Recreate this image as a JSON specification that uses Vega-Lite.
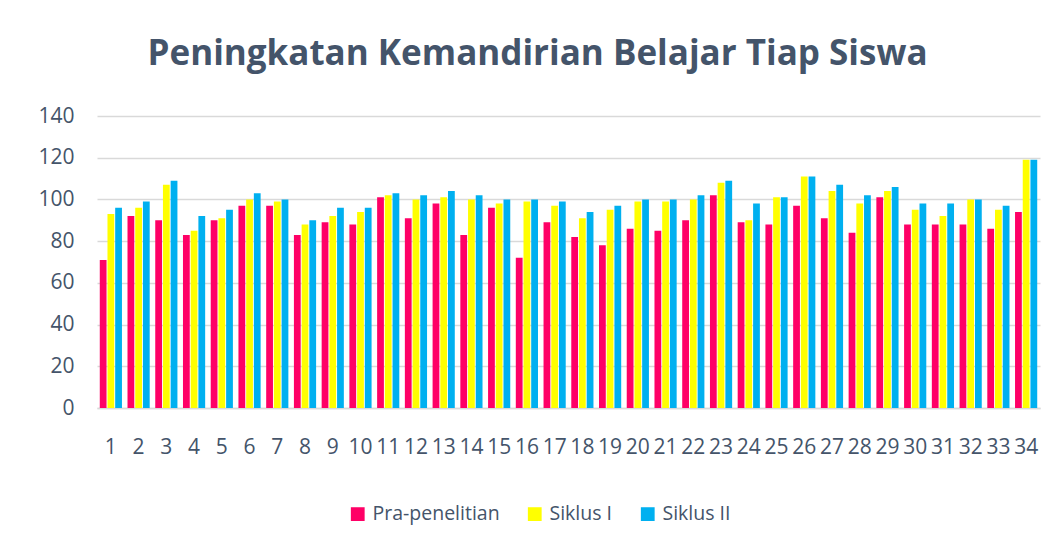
{
  "$schema": "https://vega.github.io/schema/vega-lite/v6.json",
  "width": 943,
  "height": 292,
  "autosize": {"type": "none"},
  "padding": {"left": 97, "top": 116, "right": 13, "bottom": 135},
  "background": "white",
  "title": {
    "text": "Peningkatan Kemandirian Belajar Tiap Siswa",
    "font": "Open Sans",
    "fontSize": 35,
    "fontWeight": "bold",
    "color": "#44546A",
    "frame": "group",
    "anchor": "middle",
    "baseline": "alphabetic",
    "offset": 5,
    "dx": -31
  },
  "data": {
    "values": [
      {"siswa": 1, "seri": "Pra-penelitian", "nilai": 71}, {"siswa": 1, "seri": "Siklus I", "nilai": 93}, {"siswa": 1, "seri": "Siklus II", "nilai": 96},
      {"siswa": 2, "seri": "Pra-penelitian", "nilai": 92}, {"siswa": 2, "seri": "Siklus I", "nilai": 96}, {"siswa": 2, "seri": "Siklus II", "nilai": 99},
      {"siswa": 3, "seri": "Pra-penelitian", "nilai": 90}, {"siswa": 3, "seri": "Siklus I", "nilai": 107}, {"siswa": 3, "seri": "Siklus II", "nilai": 109},
      {"siswa": 4, "seri": "Pra-penelitian", "nilai": 83}, {"siswa": 4, "seri": "Siklus I", "nilai": 85}, {"siswa": 4, "seri": "Siklus II", "nilai": 92},
      {"siswa": 5, "seri": "Pra-penelitian", "nilai": 90}, {"siswa": 5, "seri": "Siklus I", "nilai": 91}, {"siswa": 5, "seri": "Siklus II", "nilai": 95},
      {"siswa": 6, "seri": "Pra-penelitian", "nilai": 97}, {"siswa": 6, "seri": "Siklus I", "nilai": 100}, {"siswa": 6, "seri": "Siklus II", "nilai": 103},
      {"siswa": 7, "seri": "Pra-penelitian", "nilai": 97}, {"siswa": 7, "seri": "Siklus I", "nilai": 99}, {"siswa": 7, "seri": "Siklus II", "nilai": 100},
      {"siswa": 8, "seri": "Pra-penelitian", "nilai": 83}, {"siswa": 8, "seri": "Siklus I", "nilai": 88}, {"siswa": 8, "seri": "Siklus II", "nilai": 90},
      {"siswa": 9, "seri": "Pra-penelitian", "nilai": 89}, {"siswa": 9, "seri": "Siklus I", "nilai": 92}, {"siswa": 9, "seri": "Siklus II", "nilai": 96},
      {"siswa": 10, "seri": "Pra-penelitian", "nilai": 88}, {"siswa": 10, "seri": "Siklus I", "nilai": 94}, {"siswa": 10, "seri": "Siklus II", "nilai": 96},
      {"siswa": 11, "seri": "Pra-penelitian", "nilai": 101}, {"siswa": 11, "seri": "Siklus I", "nilai": 102}, {"siswa": 11, "seri": "Siklus II", "nilai": 103},
      {"siswa": 12, "seri": "Pra-penelitian", "nilai": 91}, {"siswa": 12, "seri": "Siklus I", "nilai": 100}, {"siswa": 12, "seri": "Siklus II", "nilai": 102},
      {"siswa": 13, "seri": "Pra-penelitian", "nilai": 98}, {"siswa": 13, "seri": "Siklus I", "nilai": 101}, {"siswa": 13, "seri": "Siklus II", "nilai": 104},
      {"siswa": 14, "seri": "Pra-penelitian", "nilai": 83}, {"siswa": 14, "seri": "Siklus I", "nilai": 100}, {"siswa": 14, "seri": "Siklus II", "nilai": 102},
      {"siswa": 15, "seri": "Pra-penelitian", "nilai": 96}, {"siswa": 15, "seri": "Siklus I", "nilai": 98}, {"siswa": 15, "seri": "Siklus II", "nilai": 100},
      {"siswa": 16, "seri": "Pra-penelitian", "nilai": 72}, {"siswa": 16, "seri": "Siklus I", "nilai": 99}, {"siswa": 16, "seri": "Siklus II", "nilai": 100},
      {"siswa": 17, "seri": "Pra-penelitian", "nilai": 89}, {"siswa": 17, "seri": "Siklus I", "nilai": 97}, {"siswa": 17, "seri": "Siklus II", "nilai": 99},
      {"siswa": 18, "seri": "Pra-penelitian", "nilai": 82}, {"siswa": 18, "seri": "Siklus I", "nilai": 91}, {"siswa": 18, "seri": "Siklus II", "nilai": 94},
      {"siswa": 19, "seri": "Pra-penelitian", "nilai": 78}, {"siswa": 19, "seri": "Siklus I", "nilai": 95}, {"siswa": 19, "seri": "Siklus II", "nilai": 97},
      {"siswa": 20, "seri": "Pra-penelitian", "nilai": 86}, {"siswa": 20, "seri": "Siklus I", "nilai": 99}, {"siswa": 20, "seri": "Siklus II", "nilai": 100},
      {"siswa": 21, "seri": "Pra-penelitian", "nilai": 85}, {"siswa": 21, "seri": "Siklus I", "nilai": 99}, {"siswa": 21, "seri": "Siklus II", "nilai": 100},
      {"siswa": 22, "seri": "Pra-penelitian", "nilai": 90}, {"siswa": 22, "seri": "Siklus I", "nilai": 100}, {"siswa": 22, "seri": "Siklus II", "nilai": 102},
      {"siswa": 23, "seri": "Pra-penelitian", "nilai": 102}, {"siswa": 23, "seri": "Siklus I", "nilai": 108}, {"siswa": 23, "seri": "Siklus II", "nilai": 109},
      {"siswa": 24, "seri": "Pra-penelitian", "nilai": 89}, {"siswa": 24, "seri": "Siklus I", "nilai": 90}, {"siswa": 24, "seri": "Siklus II", "nilai": 98},
      {"siswa": 25, "seri": "Pra-penelitian", "nilai": 88}, {"siswa": 25, "seri": "Siklus I", "nilai": 101}, {"siswa": 25, "seri": "Siklus II", "nilai": 101},
      {"siswa": 26, "seri": "Pra-penelitian", "nilai": 97}, {"siswa": 26, "seri": "Siklus I", "nilai": 111}, {"siswa": 26, "seri": "Siklus II", "nilai": 111},
      {"siswa": 27, "seri": "Pra-penelitian", "nilai": 91}, {"siswa": 27, "seri": "Siklus I", "nilai": 104}, {"siswa": 27, "seri": "Siklus II", "nilai": 107},
      {"siswa": 28, "seri": "Pra-penelitian", "nilai": 84}, {"siswa": 28, "seri": "Siklus I", "nilai": 98}, {"siswa": 28, "seri": "Siklus II", "nilai": 102},
      {"siswa": 29, "seri": "Pra-penelitian", "nilai": 101}, {"siswa": 29, "seri": "Siklus I", "nilai": 104}, {"siswa": 29, "seri": "Siklus II", "nilai": 106},
      {"siswa": 30, "seri": "Pra-penelitian", "nilai": 88}, {"siswa": 30, "seri": "Siklus I", "nilai": 95}, {"siswa": 30, "seri": "Siklus II", "nilai": 98},
      {"siswa": 31, "seri": "Pra-penelitian", "nilai": 88}, {"siswa": 31, "seri": "Siklus I", "nilai": 92}, {"siswa": 31, "seri": "Siklus II", "nilai": 98},
      {"siswa": 32, "seri": "Pra-penelitian", "nilai": 88}, {"siswa": 32, "seri": "Siklus I", "nilai": 100}, {"siswa": 32, "seri": "Siklus II", "nilai": 100},
      {"siswa": 33, "seri": "Pra-penelitian", "nilai": 86}, {"siswa": 33, "seri": "Siklus I", "nilai": 95}, {"siswa": 33, "seri": "Siklus II", "nilai": 97},
      {"siswa": 34, "seri": "Pra-penelitian", "nilai": 94}, {"siswa": 34, "seri": "Siklus I", "nilai": 119}, {"siswa": 34, "seri": "Siklus II", "nilai": 119}
    ]
  },
  "mark": {"type": "bar"},
  "encoding": {
    "x": {
      "field": "siswa",
      "type": "ordinal",
      "title": null,
      "scale": {"paddingInner": 0.2, "paddingOuter": 0.1},
      "axis": {
        "labelAngle": 0,
        "labelFont": "Open Sans",
        "labelFontSize": 21,
        "labelColor": "#44546A",
        "labelPadding": 28,
        "ticks": false,
        "domainColor": "#D9D9D9",
        "domainWidth": 1.5,
        "grid": false
      }
    },
    "xOffset": {
      "field": "seri",
      "type": "nominal",
      "sort": ["Pra-penelitian", "Siklus I", "Siklus II"],
      "scale": {"paddingInner": 0.12}
    },
    "y": {
      "field": "nilai",
      "type": "quantitative",
      "title": null,
      "scale": {"domain": [0, 140], "nice": false},
      "axis": {
        "values": [0, 20, 40, 60, 80, 100, 120, 140],
        "labelFont": "Open Sans",
        "labelFontSize": 21,
        "labelColor": "#44546A",
        "labelPadding": 23,
        "ticks": false,
        "domain": false,
        "gridColor": "#D9D9D9",
        "gridWidth": 1.5
      }
    },
    "color": {
      "field": "seri",
      "type": "nominal",
      "title": null,
      "sort": ["Pra-penelitian", "Siklus I", "Siklus II"],
      "scale": {
        "domain": ["Pra-penelitian", "Siklus I", "Siklus II"],
        "range": ["#FF0066", "#FFFF00", "#00B0F0"]
      },
      "legend": {
        "orient": "none",
        "direction": "horizontal",
        "legendX": 251,
        "legendY": 388,
        "symbolType": "square",
        "symbolSize": 190,
        "symbolStrokeWidth": 0,
        "labelFont": "Open Sans",
        "labelFontSize": 19.5,
        "labelColor": "#44546A",
        "labelOffset": 5,
        "columnPadding": 25
      }
    }
  },
  "config": {"view": {"stroke": null}}
}
